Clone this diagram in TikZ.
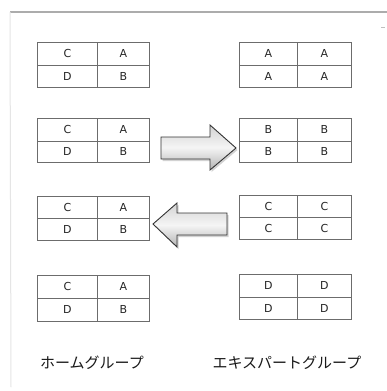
\documentclass[tikz,border=0pt]{standalone}
\usepackage{fontspec}
\setmainfont{DejaVu Sans}
\newfontfamily\jpfont{Noto Sans CJK JP}
\usetikzlibrary{shadows}
\begin{document}
\begin{tikzpicture}[x=1pt,y=-1pt,
  cell/.style={draw=gray!85!black, line width=0.9pt, inner sep=0pt, anchor=north west,
    font=\fontsize{11}{13}\selectfont, text=black!85},
  blockarrow/.style={draw=gray!40!black, line width=0.9pt, line join=miter,
    top color=gray!35, bottom color=gray!60, middle color=gray!8,
    drop shadow={shadow xshift=1.5pt, shadow yshift=-2pt, opacity=0.35}},
  grouplabel/.style={font=\jpfont\fontsize{15}{18}\selectfont, text=black!90}]
\useasboundingbox[fill=white] (0,0) rectangle (387,391);
% frame lines
\draw[gray!65, line width=1.4pt] (10,12) coordinate (ftl) -- (387,12) coordinate (ftr);
\draw[gray!20, line width=1pt] (ftl) -- (11,387) coordinate (fbl);
\draw[gray!50, line width=0.6pt] (381,27) coordinate (tk1) -- (385,27) coordinate (tk2);
% tables
\foreach \n/\xa/\xm/\xb/\ya/\ym/\yb/\p/\q/\r/\s in {
  h1/37/97/149/42/65/87/C/A/D/B,
  e1/239/297/351/42/65/87/A/A/A/A,
  h2/37/97/149/118/141/162/C/A/D/B,
  e2/239/297/351/118/141/162/B/B/B/B,
  h3/37/97/149/196/218/240/C/A/D/B,
  e3/239/297/351/195/217/239/C/C/C/C,
  h4/37/97/149/275/298/321/C/A/D/B,
  e4/239/297/351/274/297/319/D/D/D/D}{
  \node[cell, minimum width=\xm-\xa, minimum height=\ym-\ya] (\n a) at (\xa,\ya) {\p};
  \node[cell, minimum width=\xb-\xm, minimum height=\ym-\ya] (\n b) at (\xm,\ya) {\q};
  \node[cell, minimum width=\xm-\xa, minimum height=\yb-\ym] (\n c) at (\xa,\ym) {\r};
  \node[cell, minimum width=\xb-\xm, minimum height=\yb-\ym] (\n d) at (\xm,\ym) {\s};
}
% block arrows
\path[blockarrow] (161,137) -- (210,137) -- (210,125) -- (236,148) -- (210,170)
  -- (210,159) -- (161,159) -- cycle;
\path[blockarrow] (227,213) -- (177,213) -- (177,203) -- (153,224) -- (177,247)
  -- (177,235) -- (227,235) -- cycle;
% labels
\node[grouplabel] (hlabel) at (92,363) {ホームグループ};
\node[grouplabel] (elabel) at (287,363) {エキスパートグループ};
\end{tikzpicture}
\end{document}
